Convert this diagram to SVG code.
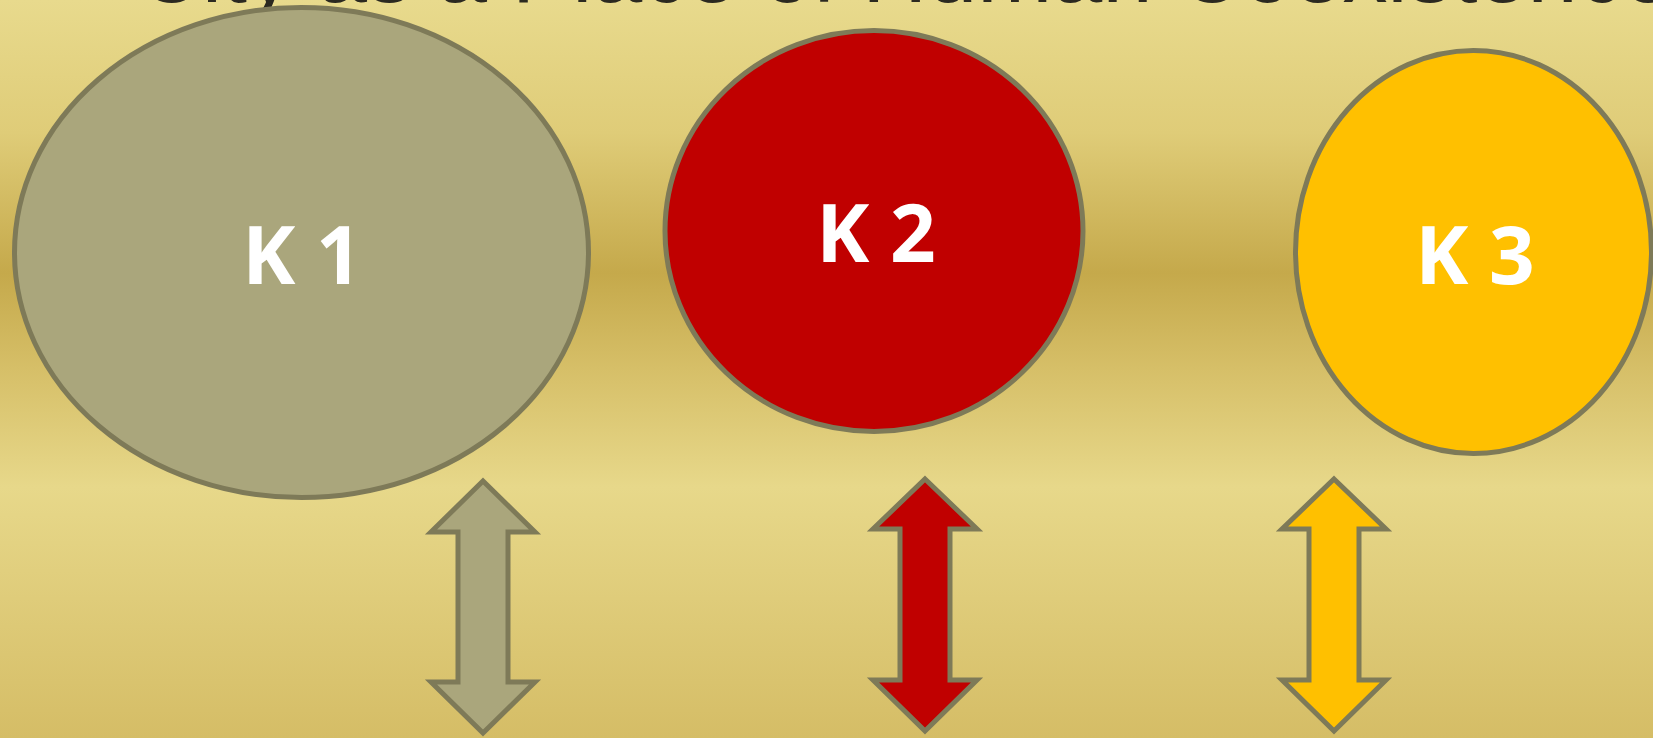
<svg xmlns="http://www.w3.org/2000/svg" width="1653" height="738" viewBox="0 0 1653 738">
<defs>
<linearGradient id="bg" x1="0" y1="0" x2="0" y2="1">
<stop offset="0" stop-color="#e8da8d"/>
<stop offset="0.18" stop-color="#dfcc78"/>
<stop offset="0.37" stop-color="#c5a94b"/>
<stop offset="0.5" stop-color="#d6bf68"/>
<stop offset="0.66" stop-color="#e7d88a"/>
<stop offset="1" stop-color="#d5bd66"/>
</linearGradient>
<style>
.node{stroke:#7e7a58;stroke-width:5}
.lbl{font-family:"Open Sans","Liberation Sans",sans-serif;font-weight:bold;font-size:80px;fill:#ffffff;text-anchor:middle}
.title{font-family:"Liberation Sans","Open Sans",sans-serif;font-size:90px;fill:#2b2920}
.arr{stroke:#7e7a58;stroke-width:5;stroke-linejoin:miter}
</style>
</defs>
<rect x="0" y="0" width="1653" height="738" fill="url(#bg)"/>
<text class="title" x="137" y="2">City as a Place of Human Coexistence</text>
<g id="node-k1">
<ellipse class="node" cx="301.5" cy="252.5" rx="287" ry="245" fill="#aaa67c"/>
<text class="lbl" x="302" y="284">K 1</text>
</g>
<g id="node-k2">
<ellipse class="node" cx="874" cy="231" rx="209" ry="200.5" fill="#c00000"/>
<text class="lbl" x="876" y="262">K 2</text>
</g>
<g id="node-k3">
<ellipse class="node" cx="1473.5" cy="252" rx="178" ry="201.5" fill="#ffc000"/>
<text class="lbl" x="1475" y="284">K 3</text>
</g>
<g id="connectors">
<path class="arr" fill="#aaa67c" d="M483,481 L535,532 L508,532 L508,682 L535,682 L483,733 L431,682 L458,682 L458,532 L431,532 Z"/>
<path class="arr" fill="#c00000" d="M925,479 L977,529 L950,529 L950,680 L977,680 L925,731 L873,680 L900,680 L900,529 L873,529 Z"/>
<path class="arr" fill="#ffc000" d="M1334,479 L1386,529 L1359,529 L1359,680 L1386,680 L1334,731 L1282,680 L1309,680 L1309,529 L1282,529 Z"/>
</g>
</svg>
